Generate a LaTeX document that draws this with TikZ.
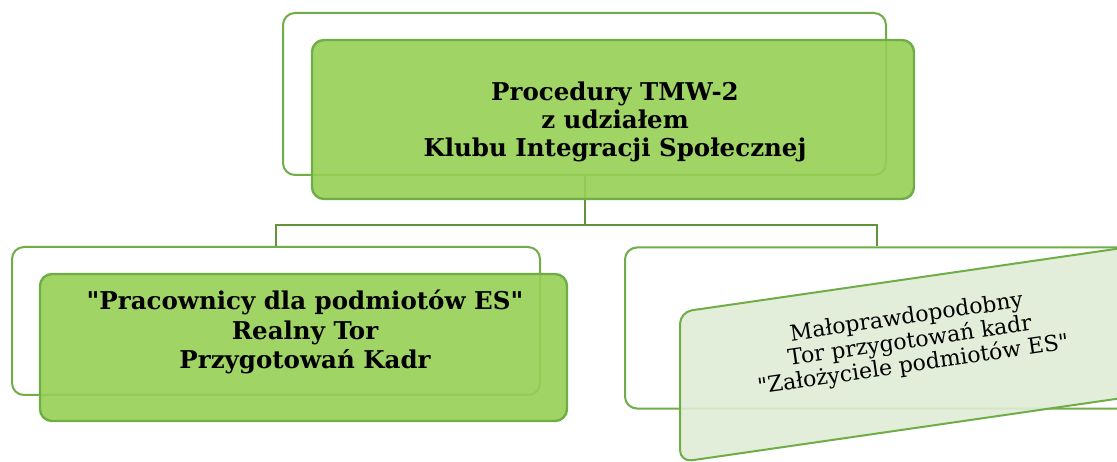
\documentclass[tikz,border=0pt]{standalone}
\usepackage{fontspec}
\setmainfont{DejaVu Serif}[Ligatures=TeXOff]
\usetikzlibrary{calc}
\definecolor{gfill}{RGB}{150,208,85}
\definecolor{gline}{RGB}{112,173,71}
\definecolor{cline}{RGB}{98,148,60}
\definecolor{lfill}{RGB}{223,237,214}
\begin{document}
\begin{tikzpicture}[x=1pt,y=-1pt,
  frame/.style={draw=gline, line width=2pt, rounded corners=12pt, fill=white, inner sep=0pt},
  gbox/.style={draw=gline, line width=2.4pt, rounded corners=12pt, fill=gfill, fill opacity=0.9, text opacity=1, inner sep=0pt},
  conn/.style={draw=cline, line width=2pt},
  lbl/.style={align=center, font=\bfseries\fontsize{24.5}{28}\selectfont},
  tiltbox/.style={draw=gline, line width=2pt, rounded corners=12pt, fill=lfill, fill opacity=0.9}]
\useasboundingbox (0,0) rectangle (1117,462);
\fill[white] (0,0) rectangle (1117,462);
% frames
\node[frame, minimum width=603pt, minimum height=162pt] (topframe) at (584.5,94) {};
\node[frame, minimum width=528pt, minimum height=148pt] (leftframe) at (276,321) {};
\node[frame, minimum width=504pt, minimum height=161pt] (rightframe) at (877,328) {};
% connectors
\coordinate (bus) at (585,225);
\draw[conn] (topframe.south) -- (topframe.south|-bus) -| (leftframe.north);
\draw[conn] (topframe.south|-bus) -| (rightframe.north);
% green boxes
\node[gbox, minimum width=602pt, minimum height=159pt] (topbox) at (613,119.5) {};
\node[lbl] (toptext) at (615,122) {Procedury TMW-2\\z udziałem\\Klubu Integracji Społecznej};
\node[gbox, minimum width=527pt, minimum height=147pt] (leftbox) at (303.5,347.5) {};
\node[lbl, font=\bfseries\fontsize{24.5}{29.5}\selectfont] (lefttext) at (305,332) {"Pracownicy dla podmiotów ES"\\Realny Tor\\Przygotowań Kadr};
% tilted box
\draw[tiltbox] (680,462) -- (680,312) -- (1240,231) -- (1240,381) -- cycle;
\node[align=center, rotate=8.3, font=\fontsize{22}{24}\selectfont] (righttext) at (910,342)
  {Małoprawdopodobny\\Tor przygotowań kadr\\"Założyciele podmiotów ES"};
\end{tikzpicture}
\end{document}
